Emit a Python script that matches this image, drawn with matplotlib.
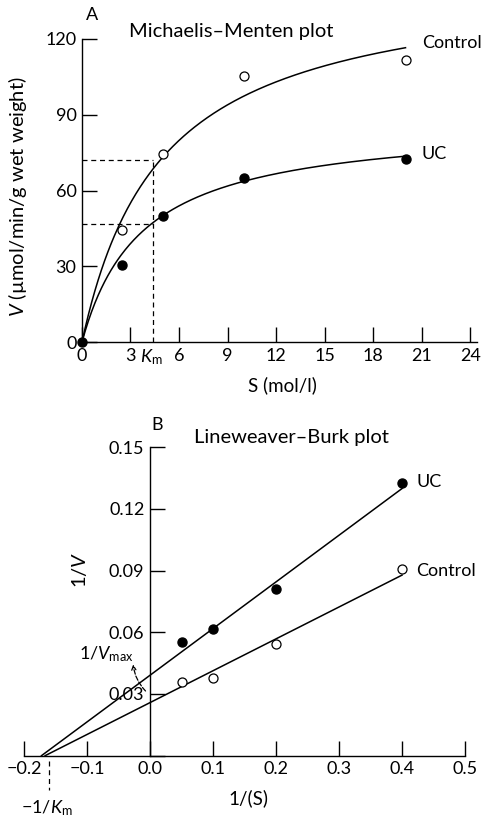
import numpy as np
import matplotlib
matplotlib.use("Agg")
import matplotlib.pyplot as plt

plt.rcParams['font.family'] = ['Lato', 'DejaVu Sans']
plt.rcParams['mathtext.fontset'] = 'custom'
plt.rcParams['mathtext.rm'] = 'Lato'
plt.rcParams['mathtext.it'] = 'Lato:italic'

# ---------------- data: Michaelis-Menten ----------------
s_vals = [2.5, 5, 10, 20]
v_control = [44.4, 74.3, 105.3, 111.6]
v_uc = [30.4, 50.0, 65.0, 72.4]
origin_pt = (0, 0)

# fitted curves (Vmax, Km)
vmax_control, km_control = 145.0, 4.9
vmax_uc, km_uc = 87.2, 3.7
s_end = 20

# Km guide lines
km_mark = 4.4
half_vmax_control = 72.0
half_vmax_uc = 46.6

# ---------------- data: Lineweaver-Burk ----------------
inv_s = [0.05, 0.1, 0.2, 0.4]
inv_v_uc = [0.0554, 0.0616, 0.0809, 0.1327]
inv_v_control = [0.0360, 0.0379, 0.0543, 0.0906]

# intercept, slope of drawn lines
lb_uc = (0.0391, 0.227)
lb_control = (0.0258, 0.155)
inv_km = -0.161

ticksA_x = [0, 3, 6, 9, 12, 15, 18, 21, 24]
ticksA_y = [0, 30, 60, 90, 120]
ticksB_x = [-0.2, -0.1, 0.0, 0.1, 0.2, 0.3, 0.4, 0.5]
ticksB_y = [0, 0.03, 0.06, 0.09, 0.12, 0.15]
labelsB_y = ['', '0.03', '0.06', '0.09', '0.12', '0.15']

FS = 13
fig = plt.figure(figsize=(4.82, 8.18), dpi=100)


def style(ax):
    for side in ['top', 'right']:
        ax.spines[side].set_visible(False)
    for side in ['left', 'bottom']:
        ax.spines[side].set_linewidth(1.0)
    ax.tick_params(direction='in', length=10.5, width=1.0, labelsize=FS, pad=4)


# ====================== panel A ======================
axA = fig.add_axes([0.170, 0.5815, 0.819, 0.3711])
style(axA)
axA.set_xlim(0, 24.4)
axA.set_ylim(0, 120)
axA.set_xticks(ticksA_x)
axA.set_yticks(ticksA_y)

s = np.linspace(0, s_end, 300)
axA.plot(s, vmax_control * s / (km_control + s), color='black', lw=1.1)
axA.plot(s, vmax_uc * s / (km_uc + s), color='black', lw=1.1)

axA.plot(s_vals, v_control, 'o', mfc='white', mec='black', mew=0.9, ms=6.5, clip_on=False)
axA.plot(s_vals, v_uc, 'o', mfc='black', mec='black', ms=6.5, clip_on=False)
axA.plot([origin_pt[0]], [origin_pt[1]], 'o', mfc='black', mec='black', ms=6.5, clip_on=False, zorder=5)

dash = (0, (4, 3))
axA.plot([0, km_mark], [half_vmax_control] * 2, color='black', lw=0.9, ls=dash)
axA.plot([0, km_mark], [half_vmax_uc] * 2, color='black', lw=0.9, ls=dash)
axA.plot([km_mark, km_mark], [0, half_vmax_control], color='black', lw=0.9, ls=dash)

axA.text(km_mark - 0.1, -1.8, r'$K_\mathrm{m}$', ha='center', va='top', fontsize=FS)
axA.text(21.0, 118.3, 'Control', ha='left', va='center', fontsize=FS)
axA.text(21.0, 74.4, 'UC', ha='left', va='center', fontsize=FS)
axA.text(0.6, 129.4, 'A', ha='center', va='center', fontsize=FS, clip_on=False)
axA.text(9.2, 122.7, 'Michaelis–Menten plot', ha='center', va='center', fontsize=FS + 1.5)

axA.set_xlabel('S (mol/l)', fontsize=FS + 0.5)
axA.xaxis.set_label_coords(0.509, -0.112)
axA.set_ylabel(r'$V$ (µmol/min/g wet weight)', fontsize=FS + 1.5)
axA.yaxis.set_label_coords(-0.135, 0.48)

# ====================== panel B ======================
axB = fig.add_axes([0.0498, 0.0762, 0.915, 0.3771])
style(axB)
axB.spines['left'].set_position(('data', 0))
axB.set_xlim(-0.2, 0.5)
axB.set_ylim(0, 0.15)
axB.set_xticks(ticksB_x)
axB.set_xticklabels(['%.1f' % t if t >= 0 else '−%.1f' % -t for t in ticksB_x])
axB.set_yticks(ticksB_y)
axB.set_yticklabels(labelsB_y)

for (b0, m) in [lb_uc, lb_control]:
    x0 = -b0 / m
    xs = np.array([x0, 0.4])
    axB.plot(xs, b0 + m * xs, color='black', lw=1.1, clip_on=False)

axB.plot(inv_s, inv_v_uc, 'o', mfc='black', mec='black', ms=6.5, clip_on=False)
axB.plot(inv_s, inv_v_control, 'o', mfc='white', mec='black', mew=0.9, ms=6.5, clip_on=False)

axB.plot([inv_km, inv_km], [-0.0026, -0.0167], color='black', lw=0.9, ls=(0, (4, 3)), clip_on=False)
axB.text(inv_km - 0.002, -0.0255, r'−1/$K_\mathrm{m}$', ha='center', va='center', fontsize=FS)

axB.text(-0.026, 0.0492, r'1/$V_\mathrm{max}$', ha='right', va='center', fontsize=FS)
axB.annotate('', xy=(-0.027, 0.0457), xytext=(-0.004, 0.0305),
             arrowprops=dict(arrowstyle='->,head_length=0.3,head_width=0.15', lw=0.9,
                             ls='--', connectionstyle='arc3,rad=-0.2', color='black'))

axB.text(0.423, 0.1332, 'UC', ha='left', va='center', fontsize=FS)
axB.text(0.423, 0.0900, 'Control', ha='left', va='center', fontsize=FS)
axB.text(0.012, 0.161, 'B', ha='center', va='center', fontsize=FS, clip_on=False)
axB.text(0.224, 0.1549, 'Lineweaver–Burk plot', ha='center', va='center', fontsize=FS + 1.5)

axB.set_xlabel('1/(S)', fontsize=FS + 0.5)
axB.xaxis.set_label_coords(0.508, -0.109)
axB.set_ylabel(r'1/$V$', fontsize=FS + 1.5)
axB.yaxis.set_label_coords(0.147, 0.602)

fig.savefig('out.png', dpi=100)
